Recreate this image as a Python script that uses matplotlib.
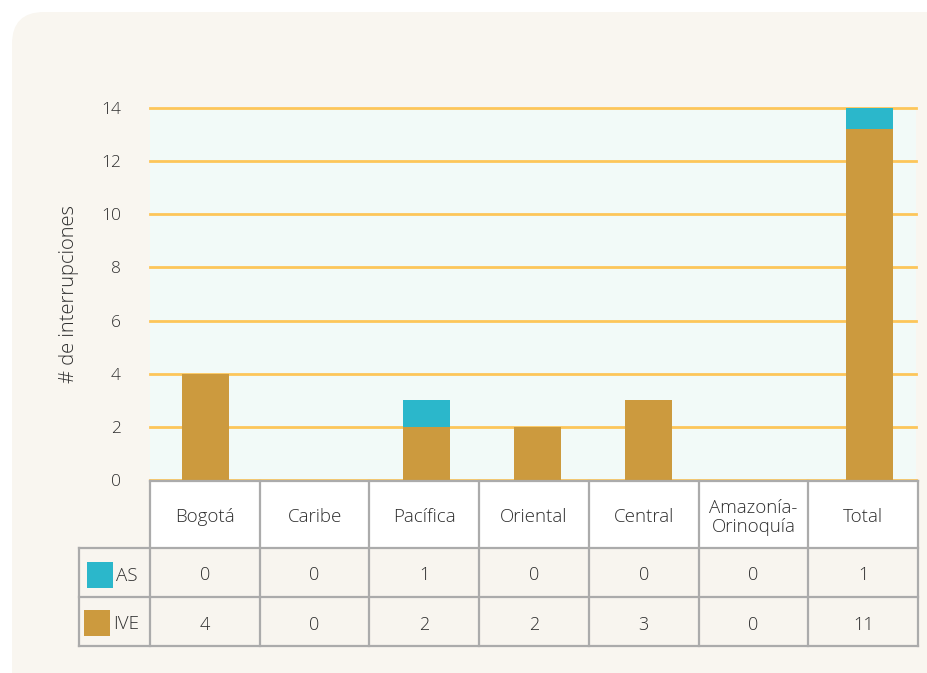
import matplotlib
matplotlib.use("Agg")
import matplotlib.pyplot as plt
from matplotlib.patches import Rectangle, FancyBboxPatch

# datos
regiones = ["Bogotá", "Caribe", "Pacífica", "Oriental", "Central", "Amazonía-\nOrinoquía", "Total"]
tabla_as = [0, 0, 1, 0, 0, 0, 1]
tabla_ive = [4, 0, 2, 2, 3, 0, 11]
# alturas tal como aparecen dibujadas en la gráfica
barra_ive = [4, 0, 2, 2, 3, 0, 13.2]
barra_as = [0, 0, 1, 0, 0, 0, 1]
yticks = [0, 2, 4, 6, 8, 10, 12, 14]

c_ive = "#cc9a3e"
c_as = "#2bb7cb"
c_grid = "#fdc65a"
c_texto = "#2e2e2e"
c_borde = "#ababab"
c_panel = "#f9f6f0"

plt.rcParams['font.family'] = ['Open Sans', 'DejaVu Sans']
plt.rcParams['font.weight'] = 'light'
plt.rcParams['axes.labelweight'] = 'light'

W, H = 928, 673
fig = plt.figure(figsize=(W / 100, H / 100), dpi=100)
fig.patch.set_facecolor("white")

# capa de fondo en pixeles
bg = fig.add_axes([0, 0, 1, 1])
bg.set_xlim(0, W)
bg.set_ylim(H, 0)
bg.axis("off")
bg.add_patch(FancyBboxPatch((12, 12), W + 40, H + 40,
                            boxstyle="round,pad=0,rounding_size=32",
                            fc=c_panel, ec="none"))

# grafica de barras
x0, x1, ytop, ybot = 150, 916, 108, 480
ax = fig.add_axes([x0 / W, 1 - ybot / H, (x1 - x0) / W, (ybot - ytop) / H])
ax.set_facecolor("#f2faf8")
pos = list(range(len(regiones)))
ax.bar(pos, barra_ive, width=0.425, color=c_ive, zorder=3)
ax.bar(pos, barra_as, bottom=barra_ive, width=0.425, color=c_as, zorder=3)
ax.set_xlim(-0.5015, 6.42)
ax.set_ylim(0, 14)
ax.set_yticks(yticks)
for t in yticks:
    ax.axhline(t, color=c_grid, lw=2, zorder=2, clip_on=False)
ax.set_xticks([])
for s in ax.spines.values():
    s.set_visible(False)
ax.tick_params(axis="y", length=0, pad=21, labelsize=12.5, labelcolor=c_texto)
ax.set_ylabel("# de interrupciones", fontsize=14.5, color=c_texto, labelpad=16,
              fontweight="light")

# tabla
tb = fig.add_axes([0, 0, 1, 1])
tb.set_xlim(0, W)
tb.set_ylim(H, 0)
tb.axis("off")
tx0, tx1 = 150, 918
ancho = (tx1 - tx0) / len(regiones)
h0, h1, r1, r2 = 481, 548, 597, 646
lx = 79
tb.add_patch(Rectangle((tx0, h0), tx1 - tx0, h1 - h0, fc="white", ec="none"))
tb.add_patch(Rectangle((lx, h1), tx1 - lx, r2 - h1, fc="#f8f5ef", ec="none"))
lw = 1.6
tb.plot([tx0, tx1], [h0, h0], color=c_borde, lw=lw)
tb.plot([lx, tx1], [h1, h1], color=c_borde, lw=lw)
tb.plot([lx, tx1], [r1, r1], color=c_borde, lw=lw)
tb.plot([lx, tx1], [r2, r2], color=c_borde, lw=lw)
tb.plot([lx, lx], [h1, r2], color=c_borde, lw=lw)
for i in range(len(regiones) + 1):
    xx = tx0 + i * ancho
    tb.plot([xx, xx], [h0, r2], color=c_borde, lw=lw)

for i, reg in enumerate(regiones):
    cx = tx0 + (i + 0.5) * ancho
    tb.text(cx, (h0 + h1) / 2 + 3, reg, ha="center", va="center", fontsize=13.5,
            color=c_texto, linespacing=1.1)
    tb.text(cx, (h1 + r1) / 2 + 3, str(tabla_as[i]), ha="center", va="center",
            fontsize=13, color=c_texto)
    tb.text(cx, (r1 + r2) / 2 + 3, str(tabla_ive[i]), ha="center", va="center",
            fontsize=13, color=c_texto)

tb.add_patch(Rectangle((87, 562), 26, 26, fc=c_as, ec="none"))
tb.text(116, 576, "AS", ha="left", va="center", fontsize=13.5, color=c_texto)
tb.add_patch(Rectangle((84, 610), 26, 26, fc=c_ive, ec="none"))
tb.text(113, 624, "IVE", ha="left", va="center", fontsize=13.5, color=c_texto)

fig.savefig("out.png", dpi=100, facecolor=fig.get_facecolor())
